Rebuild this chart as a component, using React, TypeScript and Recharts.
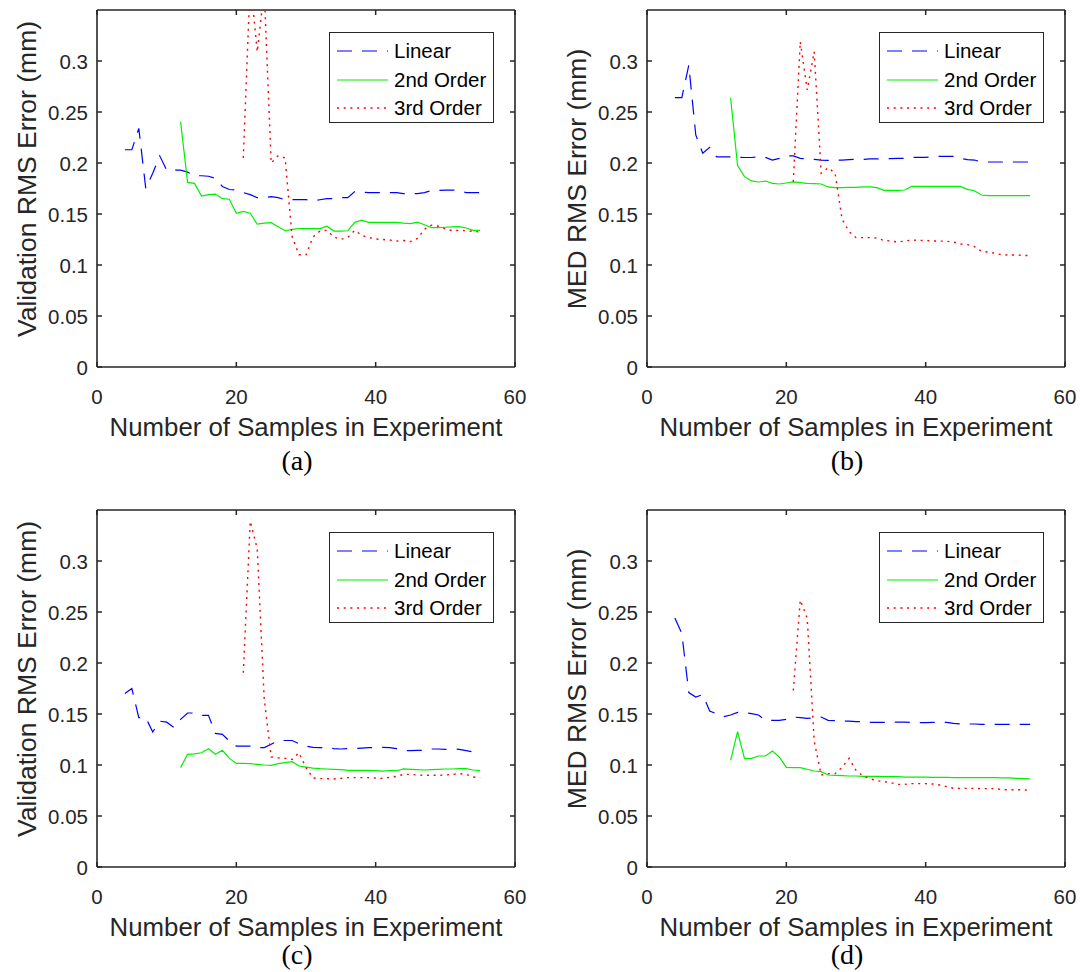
import React from "react";
import { LineChart, Line, XAxis, YAxis, Legend, CartesianGrid } from "recharts";

// sample counts where each fit starts (one point per sample up to 55)
const LINEAR_START = 4;
const SECOND_START = 12;
const THIRD_START = 21;

const xTicks = [0, 20, 40, 60];
const yTicks = [0, 0.05, 0.1, 0.15, 0.2, 0.25, 0.3];
const X_MAX = 60;
const Y_MAX = 0.35;

// (a) validation RMS error
const aLinear = [
  0.213, 0.213, 0.234, 0.175, 0.19, 0.207, 0.193, 0.193, 0.193, 0.191, 0.1875, 0.1875, 0.187,
  0.185, 0.177, 0.174, 0.1735, 0.171, 0.169, 0.166, 0.166, 0.167, 0.166, 0.164, 0.164, 0.164,
  0.164, 0.163, 0.164, 0.165, 0.165, 0.166, 0.166, 0.172, 0.1715, 0.171, 0.171, 0.171, 0.171,
  0.171, 0.17, 0.17, 0.17, 0.171, 0.173, 0.173, 0.1735, 0.1735, 0.173, 0.171, 0.171, 0.171,
];
const aSecond = [
  0.2405, 0.181, 0.18, 0.1676, 0.169, 0.1695, 0.165, 0.1645, 0.1507, 0.1526, 0.1507, 0.14, 0.141,
  0.1415, 0.1376, 0.1336, 0.135, 0.1356, 0.1356, 0.1356, 0.1356, 0.138, 0.1333, 0.1333, 0.1336,
  0.1418, 0.144, 0.1418, 0.1418, 0.1418, 0.1418, 0.1418, 0.141, 0.1405, 0.142, 0.1395, 0.1366,
  0.1366, 0.137, 0.1373, 0.1376, 0.1363, 0.134, 0.134,
];
const aThird = [
  0.205, 0.38, 0.309, 0.37, 0.2, 0.207, 0.205, 0.128, 0.11, 0.11, 0.1275, 0.1333, 0.134, 0.1275,
  0.1252, 0.127, 0.134, 0.129, 0.127, 0.1255, 0.125, 0.1245, 0.1235, 0.124, 0.123, 0.126, 0.135,
  0.139, 0.138, 0.1354, 0.1336, 0.134, 0.1336, 0.133, 0.1323,
];

// (b) MED RMS error
const bLinear = [
  0.264, 0.264, 0.296, 0.2275, 0.2095, 0.2154, 0.206, 0.206, 0.206, 0.2055, 0.2054, 0.2054, 0.206,
  0.2055, 0.2029, 0.2045, 0.207, 0.207, 0.2045, 0.2039, 0.2035, 0.2029, 0.2026, 0.2026, 0.2029,
  0.2033, 0.2036, 0.2036, 0.204, 0.204, 0.204, 0.2043, 0.2046, 0.2046, 0.2055, 0.2055, 0.2055,
  0.206, 0.2065, 0.2065, 0.2065, 0.2046, 0.2033, 0.2029, 0.201, 0.201, 0.201, 0.201, 0.201, 0.201,
  0.201, 0.201,
];
const bSecond = [
  0.264, 0.1974, 0.1866, 0.1824, 0.1814, 0.1823, 0.18, 0.1794, 0.1804, 0.1814, 0.1807, 0.18,
  0.1797, 0.1794, 0.1765, 0.1758, 0.1758, 0.1761, 0.1761, 0.1765, 0.1765, 0.1758, 0.1732, 0.1732,
  0.1732, 0.1735, 0.1771, 0.1771, 0.1771, 0.1771, 0.1771, 0.1771, 0.1771, 0.1771, 0.1741, 0.1728,
  0.1686, 0.168, 0.168, 0.168, 0.168, 0.168, 0.168, 0.168,
];
const bThird = [
  0.1817, 0.319, 0.2716, 0.309, 0.19, 0.1954, 0.19, 0.145, 0.1327, 0.1268, 0.1268, 0.1268, 0.1265,
  0.124, 0.1235, 0.1225, 0.1235, 0.1245, 0.1242, 0.124, 0.1235, 0.1235, 0.1232, 0.1225, 0.1206,
  0.12, 0.118, 0.1134, 0.1127, 0.1114, 0.11, 0.1098, 0.1098, 0.1095, 0.1091,
];

// (c) validation RMS error
const cLinear = [
  0.17, 0.175, 0.1464, 0.1464, 0.1324, 0.143, 0.142, 0.137, 0.1447, 0.151, 0.151, 0.1487, 0.1487,
  0.131, 0.13, 0.1235, 0.1186, 0.1186, 0.1186, 0.117, 0.117, 0.1203, 0.124, 0.124, 0.124, 0.1209,
  0.1186, 0.1173, 0.117, 0.1173, 0.116, 0.1157, 0.116, 0.116, 0.1166, 0.117, 0.117, 0.1173, 0.117,
  0.116, 0.1141, 0.1141, 0.1144, 0.1144, 0.1157, 0.1157, 0.1154, 0.1157, 0.1154, 0.1141, 0.1127,
  0.112,
];
const cSecond = [
  0.0974, 0.1105, 0.111, 0.112, 0.116, 0.1105, 0.1144, 0.1065, 0.1016, 0.1016, 0.1013, 0.1006, 0.1,
  0.0997, 0.1013, 0.1023, 0.1033, 0.099, 0.098, 0.097, 0.0964, 0.0961, 0.0957, 0.0954, 0.0948,
  0.0948, 0.0948, 0.0948, 0.0944, 0.094, 0.0944, 0.0944, 0.0961, 0.0957, 0.0954, 0.0951, 0.0954,
  0.0957, 0.0961, 0.0961, 0.0964, 0.0964, 0.0951, 0.0944,
];
const cThird = [
  0.1905, 0.339, 0.312, 0.165, 0.108, 0.107, 0.1065, 0.1055, 0.112, 0.0974, 0.0873, 0.0866, 0.0866,
  0.0863, 0.0869, 0.0876, 0.0876, 0.0876, 0.0876, 0.0873, 0.0869, 0.0879, 0.0889, 0.0908, 0.0908,
  0.0902, 0.0899, 0.0899, 0.0899, 0.0902, 0.0908, 0.0915, 0.0908, 0.0882, 0.0876,
];

// (d) MED RMS error
const dLinear = [
  0.244, 0.229, 0.171, 0.1667, 0.169, 0.153, 0.15, 0.1474, 0.149, 0.1516, 0.1513, 0.1503, 0.149,
  0.1438, 0.1438, 0.1438, 0.1447, 0.147, 0.1464, 0.1457, 0.1464, 0.147, 0.1438, 0.1435, 0.1431,
  0.1431, 0.1425, 0.1425, 0.1418, 0.1418, 0.1418, 0.1418, 0.1421, 0.1421, 0.1418, 0.1415, 0.1415,
  0.1418, 0.1418, 0.1418, 0.1409, 0.1402, 0.1402, 0.1402, 0.1399, 0.1399, 0.1399, 0.1399, 0.1399,
  0.1399, 0.1399, 0.1399,
];
const dSecond = [
  0.1046, 0.1327, 0.1062, 0.1065, 0.1088, 0.1088, 0.1137, 0.1078, 0.0977, 0.0974, 0.0974, 0.0958,
  0.0941, 0.0935, 0.0902, 0.0899, 0.0896, 0.0892, 0.0892, 0.0889, 0.0889, 0.0889, 0.0886, 0.0886,
  0.0886, 0.0882, 0.0882, 0.0882, 0.0882, 0.0879, 0.0879, 0.0879, 0.0876, 0.0876, 0.0876, 0.0876,
  0.0876, 0.0876, 0.0876, 0.0873, 0.0873, 0.0869, 0.0866, 0.0863,
];
const dThird = [
  0.173, 0.2617, 0.2437, 0.1235, 0.0902, 0.0915, 0.0915, 0.0977, 0.1065, 0.0948, 0.0892, 0.0866,
  0.0847, 0.0837, 0.0827, 0.081, 0.081, 0.0817, 0.0817, 0.0817, 0.0814, 0.0804, 0.0788, 0.0771,
  0.0771, 0.0771, 0.0771, 0.0768, 0.0768, 0.0768, 0.0758, 0.0758, 0.0758, 0.0758, 0.0748,
];

const SERIES = [
  { name: "Linear", color: "#0000ff", dash: "15 10", width: 1.2 },
  { name: "2nd Order", color: "#00f000", dash: undefined, width: 1.2 },
  { name: "3rd Order", color: "#ff0000", dash: "2 4.7", width: 1.4 },
];

const AX = "#262626";
const SANS = '"Liberation Sans", Arial, sans-serif';

// chart-local geometry (same for all four panels)
const W = 530;
const H = 470;
const PL = 97;
const PT = 10;
const PR = 515;
const PB = 367;

const toPoints = (start: number, vals: number[]) =>
  vals.map((v, i) => ({ x: start + i, y: v }));

const fmt = (v: number) => (v === 0 ? "0" : String(v));

// left tick + label, plus the mirrored inward tick on the right edge of the box
const YTick = (props: any) => {
  const { y, payload } = props;
  return (
    <g>
      <line x1={PL} x2={PL + 5} y1={y} y2={y} stroke={AX} strokeWidth={1.5} />
      {payload.value > 0 && <line x1={PR} x2={PR - 5} y1={y} y2={y} stroke={AX} strokeWidth={1.5} />}
      <text x={PL - 9} y={y} textAnchor="end" dominantBaseline="central" fill={AX} fontSize={20.5} fontFamily={SANS}>
        {fmt(payload.value)}
      </text>
    </g>
  );
};

// bottom tick + label, with the mirrored inward tick on the top edge
const XTick = (props: any) => {
  const { x, payload } = props;
  return (
    <g>
      <line x1={x} x2={x} y1={PB} y2={PB - 5} stroke={AX} strokeWidth={1.5} />
      <line x1={x} x2={x} y1={PT} y2={PT + 5} stroke={AX} strokeWidth={1.5} />
      <text x={x} y={PB + 29} textAnchor="middle" dominantBaseline="central" fill={AX} fontSize={20.5} fontFamily={SANS}>
        {payload.value}
      </text>
    </g>
  );
};

const LegendBox = () => (
  <div
    style={{
      width: 165,
      height: 91,
      boxSizing: "border-box",
      border: "1.3px solid #262626",
      background: "#fff",
      fontFamily: SANS,
      fontSize: 20.5,
      color: "#000",
      paddingTop: 4,
    }}
  >
    {SERIES.map((s) => (
      <div key={s.name} style={{ display: "flex", alignItems: "center", height: 28.5 }}>
        <svg width={62} height={10} style={{ marginLeft: 7 }}>
          <line x1={0} x2={51} y1={5} y2={5} stroke={s.color} strokeWidth={s.width} strokeDasharray={s.dash} />
        </svg>
        <span style={{ marginLeft: -5 }}>{s.name}</span>
      </div>
    ))}
  </div>
);

interface PanelProps {
  left: number;
  top: number;
  yLabel: string;
  caption: string;
  captionY: number;
  linear: number[];
  second: number[];
  third: number[];
}

function Panel({ left, top, yLabel, caption, captionY, linear, second, third }: PanelProps) {
  const sets = [
    toPoints(LINEAR_START, linear),
    toPoints(SECOND_START, second),
    toPoints(THIRD_START, third),
  ];
  return (
    <div style={{ position: "absolute", left, top, width: W, height: H }}>
      <LineChart width={W} height={H} margin={{ top: PT, right: W - PR, left: 0, bottom: H - PB - 90 }}>
        {/* top and right edges of the box */}
        <CartesianGrid
          horizontalPoints={[PT]}
          verticalPoints={[PR]}
          stroke={AX}
          strokeWidth={1.6}
          strokeDasharray=""
          fill="none"
        />
        <XAxis
          dataKey="x"
          type="number"
          domain={[0, X_MAX]}
          ticks={xTicks}
          interval={0}
          height={90}
          axisLine={{ stroke: AX, strokeWidth: 1.6 }}
          tickLine={false}
          tick={<XTick />}
          label={() => (
            <text x={(PL + PR) / 2} y={427} textAnchor="middle" dominantBaseline="central" fill={AX} fontSize={25.8} fontFamily={SANS}>
              Number of Samples in Experiment
            </text>
          )}
        />
        <YAxis
          type="number"
          domain={[0, Y_MAX]}
          allowDataOverflow
          ticks={yTicks}
          interval={0}
          width={PL}
          axisLine={{ stroke: AX, strokeWidth: 1.6 }}
          tickLine={false}
          tick={<YTick />}
          label={() => (
            <text
              x={27}
              y={179}
              transform={`rotate(-90 27 179)`}
              textAnchor="middle"
              dominantBaseline="central"
              fill={AX}
              fontSize={26.5}
              fontFamily={SANS}
            >
              {yLabel}
            </text>
          )}
        />
        {SERIES.map((s, i) => (
          <Line
            key={s.name}
            name={s.name}
            data={sets[i]}
            dataKey="y"
            type="linear"
            stroke={s.color}
            strokeWidth={s.width}
            strokeDasharray={s.dash}
            dot={false}
            activeDot={false}
            isAnimationActive={false}
          />
        ))}
        <Legend
          layout="vertical"
          align="center"
          verticalAlign="middle"
          content={() => <LegendBox />}
          wrapperStyle={{ position: "absolute", left: 329, top: 32, width: 165, height: 91 }}
        />
      </LineChart>
      <div
        style={{
          position: "absolute",
          left: 0,
          width: 594,
          top: captionY - 13,
          textAlign: "center",
          fontFamily: '"Liberation Serif", serif',
          fontSize: 28,
          color: "#000",
          lineHeight: "26px",
        }}
      >
        {caption}
      </div>
    </div>
  );
}

export default function App() {
  return (
    <div style={{ position: "absolute", left: 0, top: 0, width: 1081, height: 972, background: "#fff", overflow: "hidden" }}>
      <Panel left={0} top={0} yLabel="Validation RMS Error (mm)" caption="(a)" captionY={461} linear={aLinear} second={aSecond} third={aThird} />
      <Panel left={550} top={0} yLabel="MED RMS Error (mm)" caption="(b)" captionY={461} linear={bLinear} second={bSecond} third={bThird} />
      <Panel left={0} top={500} yLabel="Validation RMS Error (mm)" caption="(c)" captionY={455} linear={cLinear} second={cSecond} third={cThird} />
      <Panel left={550} top={500} yLabel="MED RMS Error (mm)" caption="(d)" captionY={455} linear={dLinear} second={dSecond} third={dThird} />
    </div>
  );
}
